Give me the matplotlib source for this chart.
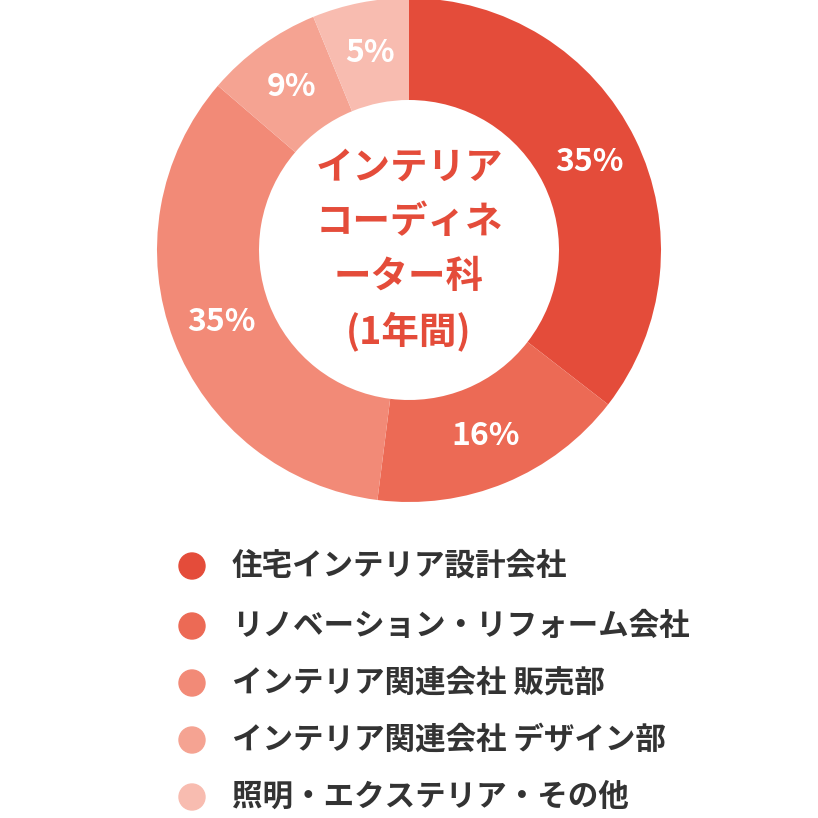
import matplotlib
matplotlib.use("Agg")
import matplotlib.pyplot as plt
import numpy as np

categories = ["住宅インテリア設計会社", "リノベーション・リフォーム会社", "インテリア関連会社 販売部",
              "インテリア関連会社 デザイン部", "照明・エクステリア・その他"]
labels = ["35%", "16%", "35%", "9%", "5%"]
shares = [35.5, 16.5, 34.3, 7.5, 6.2]   # slice sizes as drawn in the reference
colors = ["#E44C3A", "#EC6A55", "#F28A77", "#F5A392", "#F8BCB0"]
center_title = "インテリア\nコーディネ\nーター科\n(1年間)"

FONT = "Noto Sans CJK JP"
W = 818
fig = plt.figure(figsize=(8.18, 8.18), dpi=100)
R = 252
ax = fig.add_axes([(409 - R) / W, (W - 250 - R) / W, 2 * R / W, 2 * R / W])
wedges, _ = ax.pie(shares, colors=colors, startangle=90, counterclock=False,
                   radius=1, wedgeprops=dict(width=1 - 150 / R, edgecolor="none"))
rlab = (1 + 150 / R) / 2
for t, w in zip(labels, wedges):
    mid = np.deg2rad((w.theta1 + w.theta2) / 2)
    ax.text(rlab * np.cos(mid), rlab * np.sin(mid), t, ha="center", va="center",
            color="white", fontsize=23, fontweight="bold", family=FONT)
ax.text(0, 0, center_title, ha="center", va="center", color="#E44C3A",
        fontsize=27, fontweight="bold", family=FONT, linespacing=1.5)
ax.set_xlim(-1, 1); ax.set_ylim(-1, 1); ax.set_aspect("equal"); ax.axis("off")

ys = [566, 626, 683, 740, 797]
for y, c, t in zip(ys, colors, categories):
    fig.patches.append(matplotlib.patches.Circle((192 / W, 1 - y / W), 13 / W, color=c,
                                                 transform=fig.transFigure))
    fig.text(232 / W, 1 - y / W, t, ha="left", va="center", fontsize=22,
             fontweight="bold", family=FONT, color="#333333")
fig.savefig("out.png", dpi=100)
